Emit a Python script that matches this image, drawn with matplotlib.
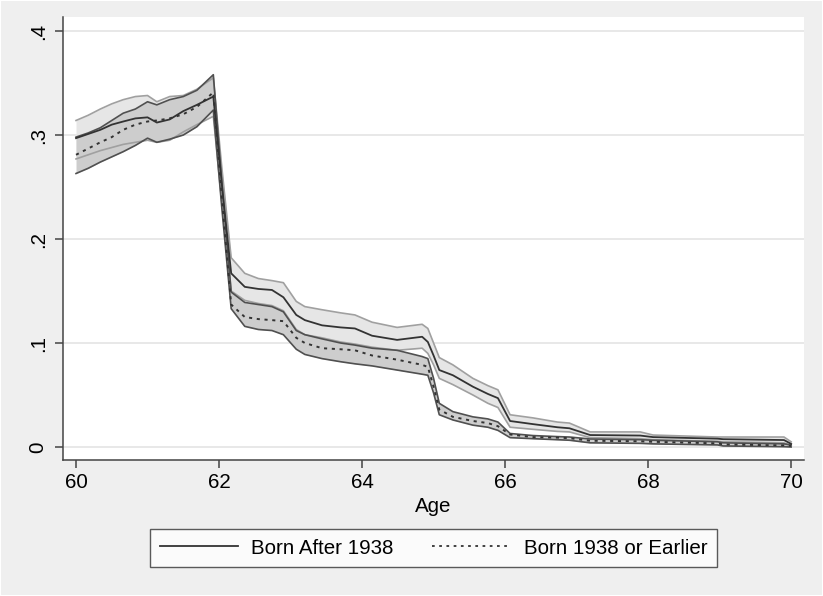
import matplotlib
matplotlib.use("Agg")
import matplotlib.pyplot as plt
from matplotlib.patches import Rectangle
from matplotlib.lines import Line2D

plt.rcParams['font.family'] = ['Liberation Sans', 'DejaVu Sans']

age = [60.0, 60.17, 60.34, 60.5, 60.66, 60.83, 61.0, 61.13, 61.31, 61.5, 61.69, 61.92,
       62.04, 62.17, 62.36, 62.55, 62.74, 62.9, 63.08, 63.2, 63.44, 63.7, 63.9, 64.14,
       64.49, 64.84, 64.92, 65.0, 65.08, 65.27, 65.55, 65.76, 65.9, 66.07, 66.39, 66.73,
       66.9, 67.19, 67.89, 68.07, 68.97, 69.05, 69.9, 70.0]

# Born After 1938: estimate and confidence band
after_mid = [0.297, 0.301, 0.305, 0.310, 0.313, 0.316, 0.317, 0.312, 0.315, 0.323, 0.329, 0.337,
             0.252, 0.167, 0.154, 0.152, 0.151, 0.144, 0.127, 0.122, 0.117, 0.115, 0.114, 0.107,
             0.103, 0.106, 0.101, 0.088, 0.074, 0.069, 0.058, 0.051, 0.047, 0.025, 0.022, 0.019,
             0.018, 0.0115, 0.0110, 0.0095, 0.0080, 0.0075, 0.0067, 0.003]
after_hi = [0.314, 0.319, 0.325, 0.330, 0.334, 0.337, 0.338, 0.332, 0.337, 0.338, 0.344, 0.355,
            0.268, 0.182, 0.167, 0.162, 0.160, 0.158, 0.140, 0.135, 0.132, 0.129, 0.127, 0.120,
            0.115, 0.118, 0.114, 0.100, 0.086, 0.079, 0.066, 0.059, 0.055, 0.031, 0.028, 0.024,
            0.023, 0.0145, 0.0145, 0.0115, 0.0096, 0.0096, 0.0096, 0.005]
after_lo = [0.277, 0.281, 0.285, 0.288, 0.291, 0.293, 0.295, 0.293, 0.295, 0.303, 0.310, 0.318,
            0.234, 0.150, 0.141, 0.138, 0.136, 0.131, 0.113, 0.108, 0.105, 0.101, 0.099, 0.096,
            0.093, 0.095, 0.090, 0.079, 0.066, 0.060, 0.050, 0.042, 0.038, 0.019, 0.017, 0.015,
            0.0145, 0.009, 0.008, 0.007, 0.0055, 0.005, 0.004, 0.001]

# Born 1938 or Earlier: estimate and confidence band
before_mid = [0.281, 0.287, 0.293, 0.298, 0.305, 0.310, 0.313, 0.314, 0.316, 0.320, 0.327, 0.341,
              0.239, 0.137, 0.125, 0.123, 0.122, 0.121, 0.105, 0.100, 0.095, 0.094, 0.093, 0.088,
              0.084, 0.079, 0.077, 0.058, 0.036, 0.029, 0.025, 0.023, 0.020, 0.012, 0.0095, 0.009,
              0.0085, 0.006, 0.0055, 0.005, 0.0035, 0.0025, 0.0015, 0.001]
before_hi = [0.298, 0.302, 0.307, 0.314, 0.321, 0.325, 0.332, 0.329, 0.334, 0.337, 0.343, 0.358,
             0.254, 0.149, 0.139, 0.137, 0.135, 0.130, 0.112, 0.108, 0.104, 0.100, 0.098, 0.095,
             0.093, 0.087, 0.085, 0.066, 0.042, 0.034, 0.029, 0.027, 0.024, 0.013, 0.011, 0.010,
             0.0096, 0.0077, 0.0070, 0.0065, 0.005, 0.004, 0.003, 0.002]
before_lo = [0.263, 0.268, 0.274, 0.279, 0.284, 0.290, 0.297, 0.293, 0.296, 0.300, 0.308, 0.324,
             0.229, 0.133, 0.116, 0.113, 0.112, 0.108, 0.094, 0.089, 0.085, 0.082, 0.080, 0.078,
             0.074, 0.070, 0.069, 0.052, 0.031, 0.026, 0.021, 0.019, 0.016, 0.009, 0.008, 0.007,
             0.0065, 0.004, 0.0035, 0.003, 0.002, 0.001, 0.0003, 0.0]

xticks = [60, 62, 64, 66, 68, 70]
yticks = [0, 0.1, 0.2, 0.3, 0.4]
ytick_labels = ['0', '.1', '.2', '.3', '.4']
labels = ['Born After 1938', 'Born 1938 or Earlier']

W, H = 823, 596
fig = plt.figure(figsize=(W / 100, H / 100), dpi=100, facecolor='#efefef')
fig.patches.append(Rectangle((0, 0), 1, 1, transform=fig.transFigure, fill=False,
                             edgecolor='white', lw=1.5, zorder=10))

ax = fig.add_axes([63 / W, (H - 460) / H, (804 - 63) / W, (460 - 17) / H])
ax.set_facecolor('white')

ax.fill_between(age, after_lo, after_hi, color='#e6e6e6', lw=0, zorder=1)
ax.fill_between(age, before_lo, before_hi, color='#cdcdcd', lw=0, zorder=2)
ax.plot(age, after_hi, color='#a0a0a0', lw=1.2, zorder=3)
ax.plot(age, after_lo, color='#a0a0a0', lw=1.2, zorder=3)
ax.plot(age, before_hi, color='#505050', lw=1.2, zorder=4)
ax.plot(age, before_lo, color='#505050', lw=1.2, zorder=4)
ax.plot(age, after_mid, color='#333333', lw=1.3, zorder=5)
ax.plot(age, before_mid, color='#333333', lw=1.4, ls=(0, (1.6, 2.4)), zorder=5)

ax.set_xlim(59.818, 70.18)
ax.set_ylim(-0.0125, 0.4135)
ax.set_xticks(xticks)
ax.set_yticks(yticks)
ax.set_yticklabels(ytick_labels, rotation=90, va='center')
ax.grid(axis='y', color='#e6e6e6', lw=1.3, zorder=0)
ax.set_axisbelow(True)
for s in ['top', 'right']:
    ax.spines[s].set_visible(False)
for s in ['left', 'bottom']:
    ax.spines[s].set_color('#444444')
    ax.spines[s].set_linewidth(1.1)
ax.tick_params(axis='both', colors='#444444', labelcolor='black', length=6, width=1.1,
               labelsize=14.8)
ax.tick_params(axis='x', pad=3)
ax.tick_params(axis='y', pad=5)
ax.set_xlabel('Age', fontsize=14.8, labelpad=4)

handles = [Line2D([], [], color='#333333', lw=1.3),
           Line2D([], [], color='#333333', lw=1.3, ls=(0, (1.5, 2.5)))]
leg = fig.legend(handles, labels, loc='center', bbox_to_anchor=(433.5 / W, 1 - 548 / H),
                 ncol=2, frameon=True, fancybox=False, fontsize=14.8, handlelength=3.8,
                 handletextpad=0.65, columnspacing=1.9, borderpad=0.45)
leg.get_frame().set_edgecolor('#333333')
leg.get_frame().set_linewidth(1.0)
leg.get_frame().set_facecolor('white')

fig.savefig('out.png', dpi=100, facecolor=fig.get_facecolor())
